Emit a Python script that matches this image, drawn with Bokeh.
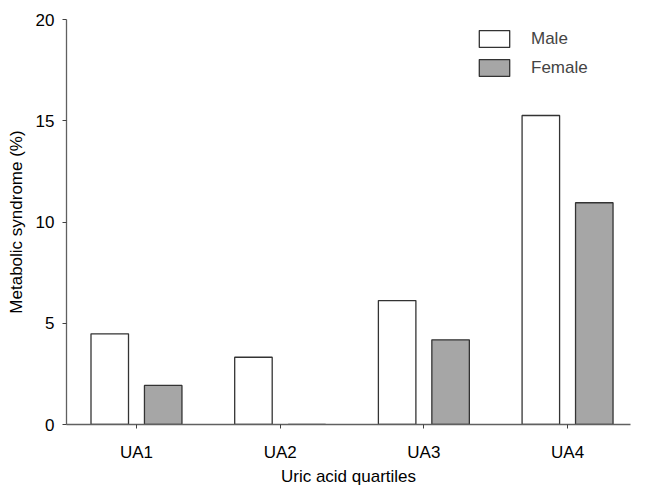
from bokeh.plotting import figure
from bokeh.models import ColumnDataSource, FixedTicker, Range1d, Legend, LegendItem
from bokeh.embed import file_html
from bokeh.resources import INLINE

categories = ["UA1", "UA2", "UA3", "UA4"]
male = [4.48, 3.32, 6.12, 15.26]
female = [1.93, 0.0, 4.18, 10.95]
y_ticks = [0, 5, 10, 15, 20]

positions = list(range(1, len(categories) + 1))
offset = 0.186
bar_w = 0.261

src = ColumnDataSource(dict(
    xm=[p - offset for p in positions],
    xf=[p + offset for p in positions],
    male=male,
    female=female,
))

p = figure(width=640, height=490, output_backend="svg", toolbar_location=None,
           x_range=Range1d(0.513, 4.438), y_range=Range1d(0, 20),
           min_border_left=66, min_border_right=10, min_border_top=19, min_border_bottom=66)
p.outline_line_color = None
p.grid.visible = False
p.background_fill_color = "white"

rm = p.vbar(x="xm", top="male", width=bar_w, source=src, fill_color="white",
            line_color="#333333", line_width=1.3)
rf = p.vbar(x="xf", top="female", width=bar_w, source=src, fill_color="#a6a6a6",
            line_color="#333333", line_width=1.3)

font = "Liberation Sans"
p.xaxis.ticker = FixedTicker(ticks=positions)
p.xaxis.major_label_overrides = {pos: c for pos, c in zip(positions, categories)}
p.yaxis.ticker = FixedTicker(ticks=y_ticks)
for ax in (p.xaxis, p.yaxis):
    ax.axis_line_color = "#606060"
    ax.axis_line_width = 1.3
    ax.major_tick_line_color = "#404040"
    ax.major_tick_in = 0
    ax.major_tick_out = 4
    ax.minor_tick_line_color = None
    ax.major_label_text_font = font
    ax.major_label_text_font_size = "17px"
    ax.major_label_text_color = "black"
    ax.axis_label_text_font = font
    ax.axis_label_text_font_size = "17px"
    ax.axis_label_text_font_style = "normal"
    ax.axis_label_text_color = "black"

p.xaxis.axis_label = "Uric acid quartiles"
p.yaxis.axis_label = "Metabolic syndrome (%)"
p.xaxis.major_label_standoff = 14
p.xaxis.axis_label_standoff = 2
p.yaxis.major_label_standoff = 8
p.yaxis.axis_label_standoff = 7

legend = Legend(items=[LegendItem(label="Male", renderers=[rm]),
                       LegendItem(label="Female", renderers=[rf])],
                location=(409, 346), padding=0, margin=0, spacing=8,
                glyph_width=38, glyph_height=21, label_standoff=18,
                label_text_font=font, label_text_font_size="17px",
                border_line_color=None, background_fill_alpha=0)
p.add_layout(legend)

open("out.html", "w").write(file_html(p, INLINE))
